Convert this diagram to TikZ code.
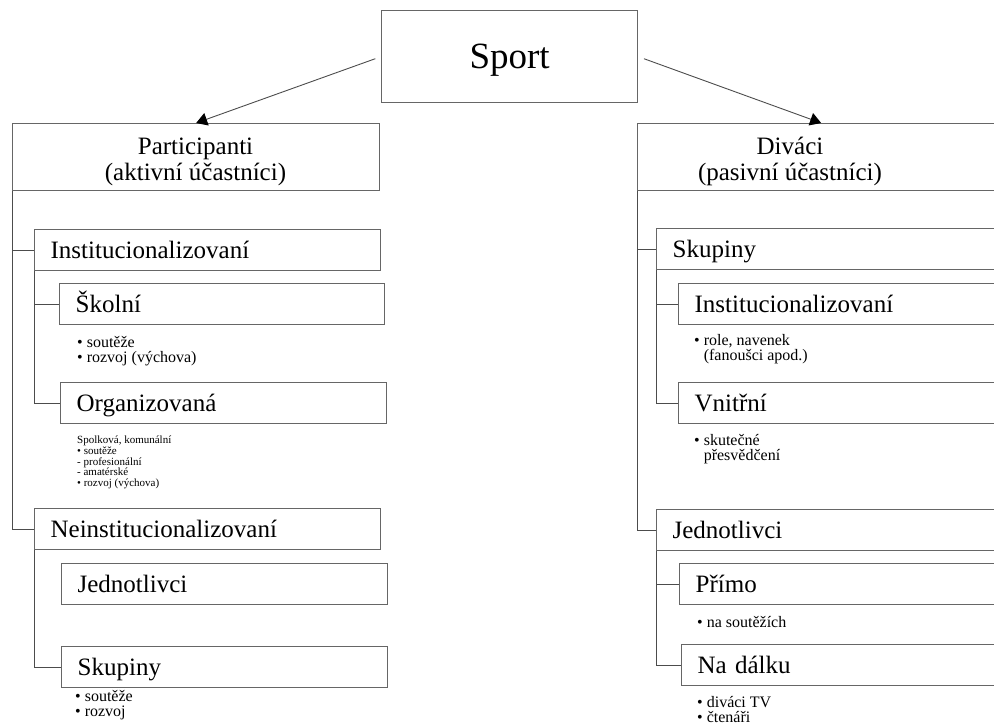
\documentclass[tikz,border=0pt]{standalone}
\usepackage{fontspec}
\setmainfont{Liberation Serif}
\usetikzlibrary{arrows.meta}
\newcommand\hd{\fontsize{25}{26}\selectfont}
\newcommand\nt{\fontsize{16}{15}\selectfont}
\newcommand\tn{\fontsize{11}{10.6}\selectfont}

\begin{document}
\begin{tikzpicture}[x=1pt,y=-1pt,>={Triangle[length=11pt,width=13pt,color=black]},
                    box/.style={draw=black!60,line width=1.3pt,anchor=north west,
                      inner ysep=0pt,inner xsep=16pt,minimum height=41pt,
                      text height=19pt,text depth=3pt,
                      text width=#1,align=left,font=\hd}]

  \tikzstyle{note}=[anchor=north west,inner sep=0pt,align=left,font=\nt]
  \tikzstyle{branch}=[draw=black!70,line width=0.9pt]

  \useasboundingbox (0,0) rectangle (994,724);
  \clip (0,0) rectangle (994,724);

  \node[box=224pt,minimum height=92pt,align=center,text height=30pt,text depth=6pt,
        font=\fontsize{37}{40}\selectfont] (sport) at (381,10) {Sport};

  % participanti
  \node[box=335pt,minimum height=67pt] (part) at (12,123) {};
  \node[align=center,font=\hd] (partl) at (195.5,161.5) {Participanti\\(aktivní účastníci)};
  \node[box=314pt] (inst)   at (34,229)  {Institucionalizovaní};
  \node[box=293pt] (skol)   at (59,283)  {Školní};
  \node[box=294pt] (org)    at (60,382)  {Organizovaná};
  \node[box=314pt] (neinst) at (34,508)  {Neinstitucionalizovaní};
  \node[box=294pt] (ljed)   at (61,563)  {Jednotlivci};
  \node[box=294pt] (lskup)  at (61,646)  {Skupiny};

  \node[note]         (skoln)  at (77,336) {• soutěže\\• rozvoj (výchova)};
  \node[note,font=\tn](orgn)   at (77,436) {Spolková, komunální\\• soutěže\\- profesionální\\- amatérské\\• rozvoj (výchova)};
  \node[note]         (lskupn) at (75,690) {• soutěže\\• rozvoj};

  % divaci
  \node[box=335pt,minimum height=67pt] (div) at (637,123) {};
  \node[align=center,font=\hd] (divl) at (790,161.5) {Diváci\\(pasivní účastníci)};
  \node[box=330pt] (rskup)  at (656,228) {Skupiny};
  \node[box=330pt] (rinst)  at (678,283) {Institucionalizovaní};
  \node[box=330pt] (vnit)   at (678,382) {Vnitřní};
  \node[box=330pt] (rjed)   at (656,509) {Jednotlivci};
  \node[box=330pt] (primo)  at (679,563) {Přímo};
  \node[box=330pt] (dalku)  at (681,644) {Na dálku};

  \node[note] (rinstn) at (694,334) {• role, navenek\\\phantom{• }(fanoušci apod.)};
  \node[note] (vnitn)  at (694,434) {• skutečné\\\phantom{• }přesvědčení};
  \node[note] (primon) at (697,616) {• na soutěžích};
  \node[note] (dalkun) at (697,696) {• diváci TV\\• čtenáři};

  \path[branch]
  (part.south west)   |- (inst.west)
  (part.south west)   |- (neinst.west)
  (inst.south west)   |- (skol.west)
  (inst.south west)   |- (org.west)
  (neinst.south west) |- (lskup.west)
  (div.south west)    |- (rskup.west)
  (div.south west)    |- (rjed.west)
  (rskup.south west)  |- (rinst.west)
  (rskup.south west)  |- (vnit.west)
  (rjed.south west)   |- (primo.west)
  (rjed.south west)   |- (dalku.west)
  ;

  \draw[->,branch,shorten <=6pt] (sport.west) -- (part.north);
  \draw[->,branch,shorten <=6pt] (sport.east) -- (div.north);
\end{tikzpicture}
\end{document}
